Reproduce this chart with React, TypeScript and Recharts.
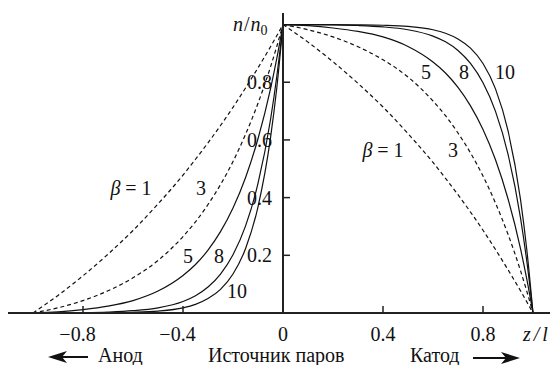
import { LineChart, Line, XAxis, YAxis, ReferenceLine } from "recharts";

// z/l positions and n/n0 readings, anode side (left of the vapour source)
const Z_LEFT = [-1, -0.9, -0.8, -0.7, -0.6, -0.5, -0.4, -0.35, -0.3, -0.25, -0.2, -0.15, -0.1, -0.05, -0.025, 0];
const LEFT_B1 = [0, 0.061, 0.129, 0.204, 0.286, 0.378, 0.478, 0.533, 0.59, 0.65, 0.713, 0.78, 0.85, 0.923, 0.961, 1];
const LEFT_B3 = [0, 0.018, 0.043, 0.077, 0.122, 0.182, 0.265, 0.316, 0.376, 0.445, 0.525, 0.619, 0.727, 0.853, 0.924, 1];
const LEFT_B5 = [0, 0.004, 0.012, 0.024, 0.043, 0.076, 0.13, 0.168, 0.218, 0.282, 0.364, 0.469, 0.604, 0.777, 0.882, 1];
const LEFT_B8 = [0, 0.0004, 0.0013, 0.0034, 0.008, 0.018, 0.04, 0.06, 0.09, 0.135, 0.202, 0.301, 0.449, 0.67, 0.819, 1];
const LEFT_B10 = [0, 0.0001, 0.0003, 0.0009, 0.0025, 0.0067, 0.018, 0.03, 0.05, 0.082, 0.135, 0.223, 0.368, 0.607, 0.779, 1];

// cathode side
const Z_RIGHT = [0, 0.1, 0.2, 0.3, 0.4, 0.5, 0.6, 0.65, 0.7, 0.75, 0.8, 0.85, 0.9, 0.95, 0.975, 1];
const RIGHT_B1 = [1, 0.939, 0.871, 0.796, 0.714, 0.622, 0.522, 0.467, 0.41, 0.35, 0.287, 0.22, 0.15, 0.077, 0.039, 0];
const RIGHT_B3 = [1, 0.982, 0.957, 0.923, 0.878, 0.818, 0.735, 0.684, 0.624, 0.555, 0.475, 0.381, 0.273, 0.147, 0.076, 0];
const RIGHT_B5 = [1, 0.996, 0.988, 0.976, 0.957, 0.924, 0.87, 0.832, 0.782, 0.718, 0.636, 0.531, 0.396, 0.223, 0.118, 0];
const RIGHT_B8 = [1, 0.9996, 0.9987, 0.9966, 0.992, 0.982, 0.96, 0.94, 0.91, 0.865, 0.798, 0.699, 0.551, 0.33, 0.181, 0];
const RIGHT_B10 = [1, 0.9999, 0.9997, 0.9991, 0.9975, 0.9933, 0.982, 0.97, 0.95, 0.918, 0.865, 0.777, 0.632, 0.394, 0.221, 0];

const X_TICKS = [-0.8, -0.4, 0, 0.4, 0.8];
const Y_TICKS = [0.2, 0.4, 0.6, 0.8];

const leftRows = Z_LEFT.map((z, i) => ({
  z,
  b1: LEFT_B1[i],
  b3: LEFT_B3[i],
  b5: LEFT_B5[i],
  b8: LEFT_B8[i],
  b10: LEFT_B10[i],
}));

const rightRows = Z_RIGHT.map((z, i) => ({
  z,
  b1: RIGHT_B1[i],
  b3: RIGHT_B3[i],
  b5: RIGHT_B5[i],
  b8: RIGHT_B8[i],
  b10: RIGHT_B10[i],
}));

const SERIES = [
  { key: "b1", dashed: true },
  { key: "b3", dashed: true },
  { key: "b5", dashed: false },
  { key: "b8", dashed: false },
  { key: "b10", dashed: false },
];

const FONT = '"Liberation Serif", "Times New Roman", "DejaVu Serif", "Noto Serif", serif';
const INK = "#111";
const txt = { fontFamily: FONT, fontSize: 20 };

function XTick({ x, y, payload }: any) {
  const v = payload.value as number;
  const neg = v < 0;
  const label = neg ? "\u2212" + Math.abs(v) : String(v);
  return (
    <text
      x={x}
      y={y}
      dy="0.71em"
      dx={neg ? -5.5 : 0}
      textAnchor="middle"
      style={txt}
      fill={INK}
    >
      {label}
    </text>
  );
}

const curveLabel = { style: txt, fill: INK, textAnchor: "middle" as const };

export default function App() {
  return (
    <div style={{ position: "relative", width: 552, height: 365, background: "#fff", fontFamily: FONT }}>
      <style>{"body{margin:0} svg text{font-family:" + FONT + "}"}</style>
      <LineChart
        width={552}
        height={365}
        margin={{ top: 13, right: 2, left: 8, bottom: 12 }}
      >
        <XAxis
          type="number"
          dataKey="z"
          domain={[-1.1, 1.068]}
          allowDataOverflow
          ticks={X_TICKS}
          tickLine={false}
          tickMargin={8}
          tick={<XTick />}
          axisLine={{ stroke: "#222", strokeWidth: 2 }}
          height={40}
        />
        <YAxis hide type="number" domain={[0, 1.04]} allowDataOverflow />

        {SERIES.map((s) => (
          <Line
            key={"L" + s.key}
            data={leftRows}
            dataKey={s.key}
            type="monotone"
            stroke={INK}
            strokeWidth={1.2}
            strokeDasharray={s.dashed ? "4 3" : undefined}
            dot={false}
            activeDot={false}
            isAnimationActive={false}
          />
        ))}
        {SERIES.map((s) => (
          <Line
            key={"R" + s.key}
            data={rightRows}
            dataKey={s.key}
            type="monotone"
            stroke={INK}
            strokeWidth={1.2}
            strokeDasharray={s.dashed ? "4 3" : undefined}
            dot={false}
            activeDot={false}
            isAnimationActive={false}
          />
        ))}

        {/* vertical axis through the vapour source */}
        <ReferenceLine x={0} stroke="#222" strokeWidth={2} />
        {Y_TICKS.map((v) => (
          <ReferenceLine
            key={"yt" + v}
            segment={[
              { x: 0, y: v },
              { x: 0.028, y: v },
            ]}
            stroke="#222"
            strokeWidth={1.5}
            label={{
              value: String(v),
              position: "left",
              offset: 11,
              fontSize: 20,
              fill: INK,
            }}
          />
        ))}
        {X_TICKS.filter((v) => v !== 0).map((v) => (
          <ReferenceLine
            key={"xt" + v}
            segment={[
              { x: v, y: 0 },
              { x: v, y: 0.024 },
            ]}
            stroke="#222"
            strokeWidth={1.5}
          />
        ))}
      </LineChart>

      <svg
        width={552}
        height={365}
        style={{ position: "absolute", left: 0, top: 0, pointerEvents: "none" }}
      >
        {/* axis titles */}
        <text x={233} y={31} style={txt} fill={INK}>
          <tspan fontStyle="italic">n</tspan>
          <tspan dx={1}>/</tspan>
          <tspan dx={1} fontStyle="italic">n</tspan>
          <tspan fontSize={14} dy={4}>0</tspan>
        </text>
        <text x={523} y={341} style={txt} fill={INK} fontStyle="italic">
          z<tspan dx={3}>/</tspan>
          <tspan dx={3}>l</tspan>
        </text>

        {/* curve labels, anode side */}
        <text x={131} y={195} {...curveLabel}>
          <tspan fontStyle="italic">β</tspan> = 1
        </text>
        <text x={201} y={195} {...curveLabel}>3</text>
        <text x={188} y={263} {...curveLabel}>5</text>
        <text x={219} y={263} {...curveLabel}>8</text>
        <text x={237} y={298} {...curveLabel}>10</text>

        {/* curve labels, cathode side */}
        <text x={426} y={79} {...curveLabel}>5</text>
        <text x={464} y={79} {...curveLabel}>8</text>
        <text x={505} y={79} {...curveLabel}>10</text>
        <text x={383} y={157} {...curveLabel}>
          <tspan fontStyle="italic">β</tspan> = 1
        </text>
        <text x={453} y={157} {...curveLabel}>3</text>

        {/* bottom captions */}
        <line x1={62} y1={357} x2={88} y2={357} stroke={INK} strokeWidth={2} />
        <polygon points="48,357 67,351 62,357 67,363" fill={INK} />
        <text x={98} y={362} style={txt} fill={INK}>Анод</text>
        <text x={208} y={362} style={txt} fill={INK}>Источник паров</text>
        <text x={410} y={362} style={txt} fill={INK}>Катод</text>
        <line x1={473} y1={358} x2={506} y2={358} stroke={INK} strokeWidth={2} />
        <polygon points="520,358 501,352 506,358 501,364" fill={INK} />
      </svg>
    </div>
  );
}
